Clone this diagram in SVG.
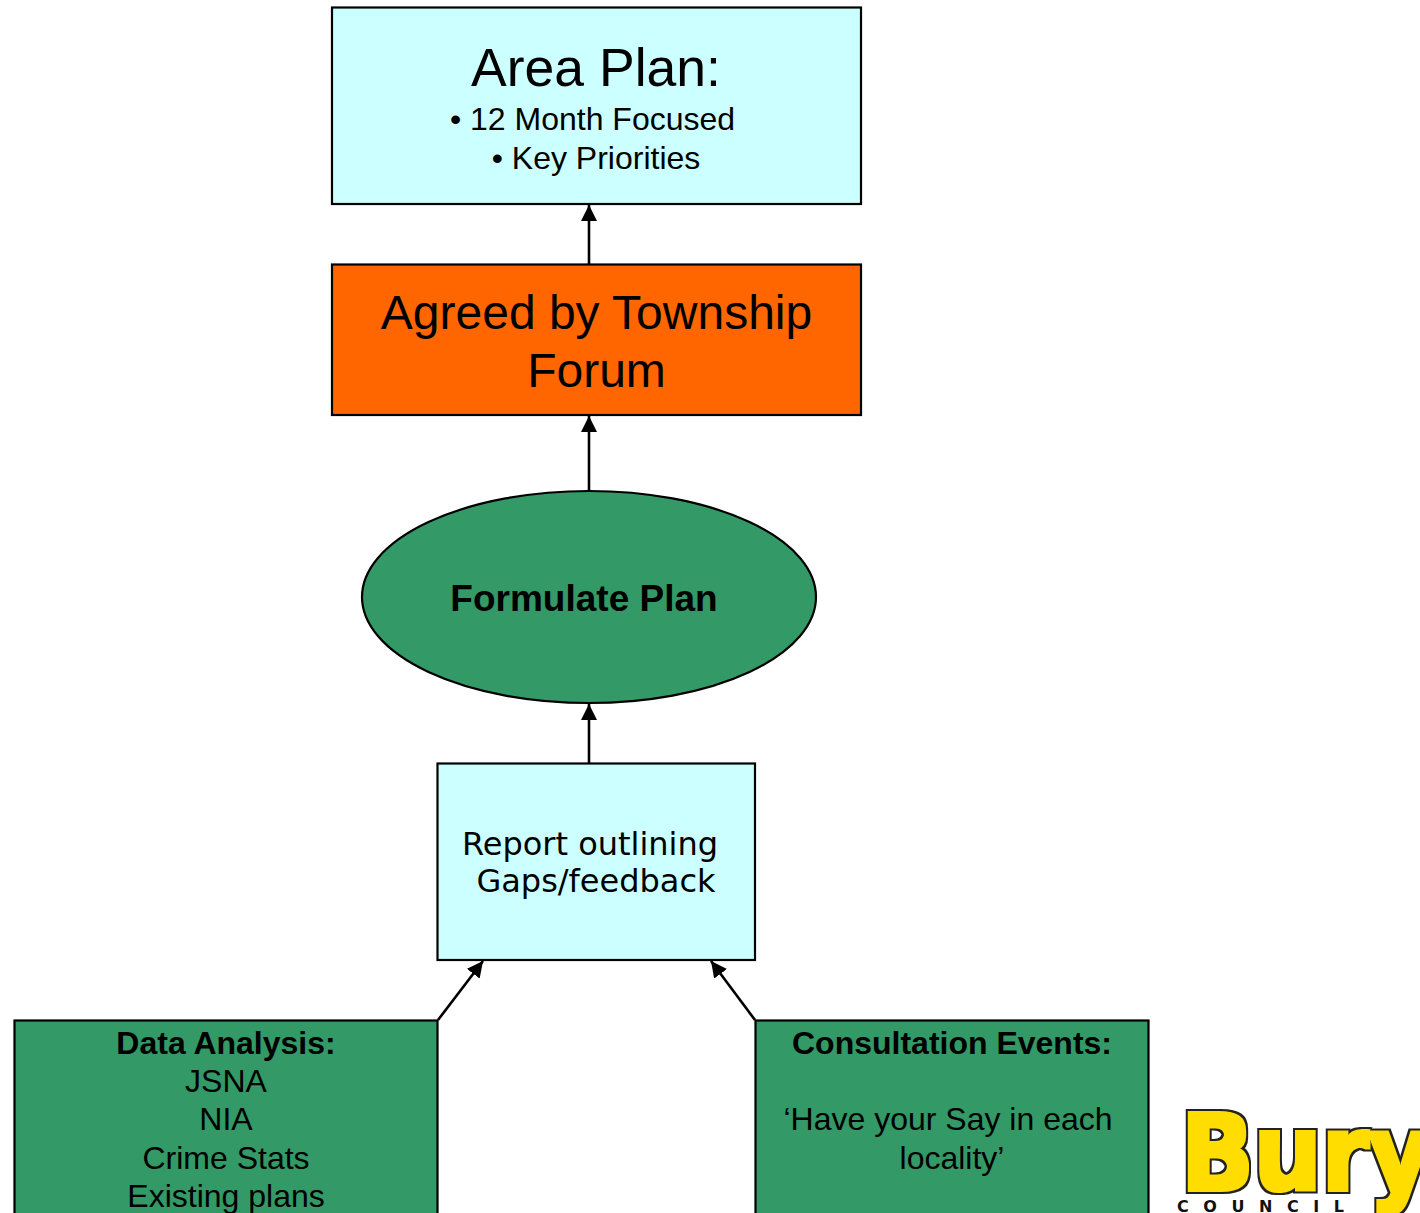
<svg xmlns="http://www.w3.org/2000/svg" width="1420" height="1213" viewBox="0 0 1420 1213">
<style>
.b{stroke:#000;stroke-width:2.200}
.t{font-family:"Liberation Sans",Arial,sans-serif;fill:#000;text-anchor:middle}
.v{font-family:"DejaVu Sans",Verdana,sans-serif;fill:#000;text-anchor:middle}
.c{stroke:#000;stroke-width:2.600;fill:none;marker-end:url(#a)}
</style>
<defs><marker id="a" markerUnits="userSpaceOnUse" markerWidth="17" markerHeight="17" refX="16" refY="8.500" orient="auto"><path d="M0 0.500L16 8.500L0 16.500z" fill="#000"/></marker>
<filter id="heavy" x="-5%" y="-5%" width="110%" height="110%" color-interpolation-filters="sRGB">
<feMorphology in="SourceAlpha" operator="dilate" radius="2" result="inner"/>
<feMorphology in="SourceAlpha" operator="dilate" radius="3.500" result="outer"/>
<feFlood flood-color="#ffdd00"/><feComposite in2="inner" operator="in" result="y"/>
<feFlood flood-color="#222222"/><feComposite in2="outer" operator="in" result="d"/>
<feMerge><feMergeNode in="d"/><feMergeNode in="y"/></feMerge>
</filter></defs>
<rect width="1420" height="1213" fill="#fff"/>
<g id="connectors">
<path class="c" d="M589 264V205"/>
<path class="c" d="M589 491V416"/>
<path class="c" d="M589 763V704"/>
<path class="c" d="M438 1020L483 961"/>
<path class="c" d="M755 1020L711 961"/>
</g>
<g id="area-plan"><rect class="b" x="332" y="7.500" width="529" height="196.500" fill="#ccffff"/>
<text class="t" x="596" y="86" font-size="53.500">Area Plan:</text>
<text class="t" x="592.500" y="130" font-size="32">• 12 Month Focused</text>
<text class="t" x="596" y="169" font-size="32">• Key Priorities</text></g>
<g id="township-forum"><rect class="b" x="332" y="264.500" width="529" height="150.500" fill="#ff6600"/>
<text class="t" x="596.500" y="329" font-size="48">Agreed by Township</text>
<text class="t" x="596.500" y="387" font-size="48">Forum</text></g>
<g id="formulate-plan"><ellipse class="b" cx="589" cy="597" rx="227" ry="106" fill="#339966"/>
<text class="t" x="584" y="611" font-size="37" font-weight="bold">Formulate Plan</text></g>
<g id="report"><rect class="b" x="437.500" y="763.500" width="317.500" height="196.500" fill="#ccffff"/>
<text class="v" x="590" y="855" font-size="32">Report outlining</text>
<text class="v" x="596" y="892" font-size="32">Gaps/feedback</text></g>
<g id="data-analysis"><rect class="b" x="14.500" y="1020.500" width="423" height="200" fill="#339966"/>
<text class="t" x="226" y="1054" font-size="32" font-weight="bold">Data Analysis:</text>
<text class="t" x="226" y="1092" font-size="32">JSNA</text>
<text class="t" x="226" y="1130" font-size="32">NIA</text>
<text class="t" x="226" y="1169" font-size="32">Crime Stats</text>
<text class="t" x="226" y="1207" font-size="32">Existing plans</text></g>
<g id="consultation"><rect class="b" x="755.500" y="1020.500" width="393" height="200" fill="#339966"/>
<text class="t" x="952" y="1054" font-size="32" font-weight="bold">Consultation Events:</text>
<text class="t" x="948" y="1130" font-size="32">‘Have your Say in each</text>
<text class="t" x="952" y="1169" font-size="32">locality’</text></g>
<g id="logo">
<text x="1181" y="1190" font-family="DejaVu Sans,sans-serif" font-weight="bold" font-size="105" filter="url(#heavy)" textLength="250" lengthAdjust="spacingAndGlyphs">Bury</text>
<text x="1177" y="1212" font-family="DejaVu Sans,sans-serif" font-weight="bold" font-size="16" fill="#111" textLength="167" lengthAdjust="spacing">COUNCIL</text>
</g>
</svg>
